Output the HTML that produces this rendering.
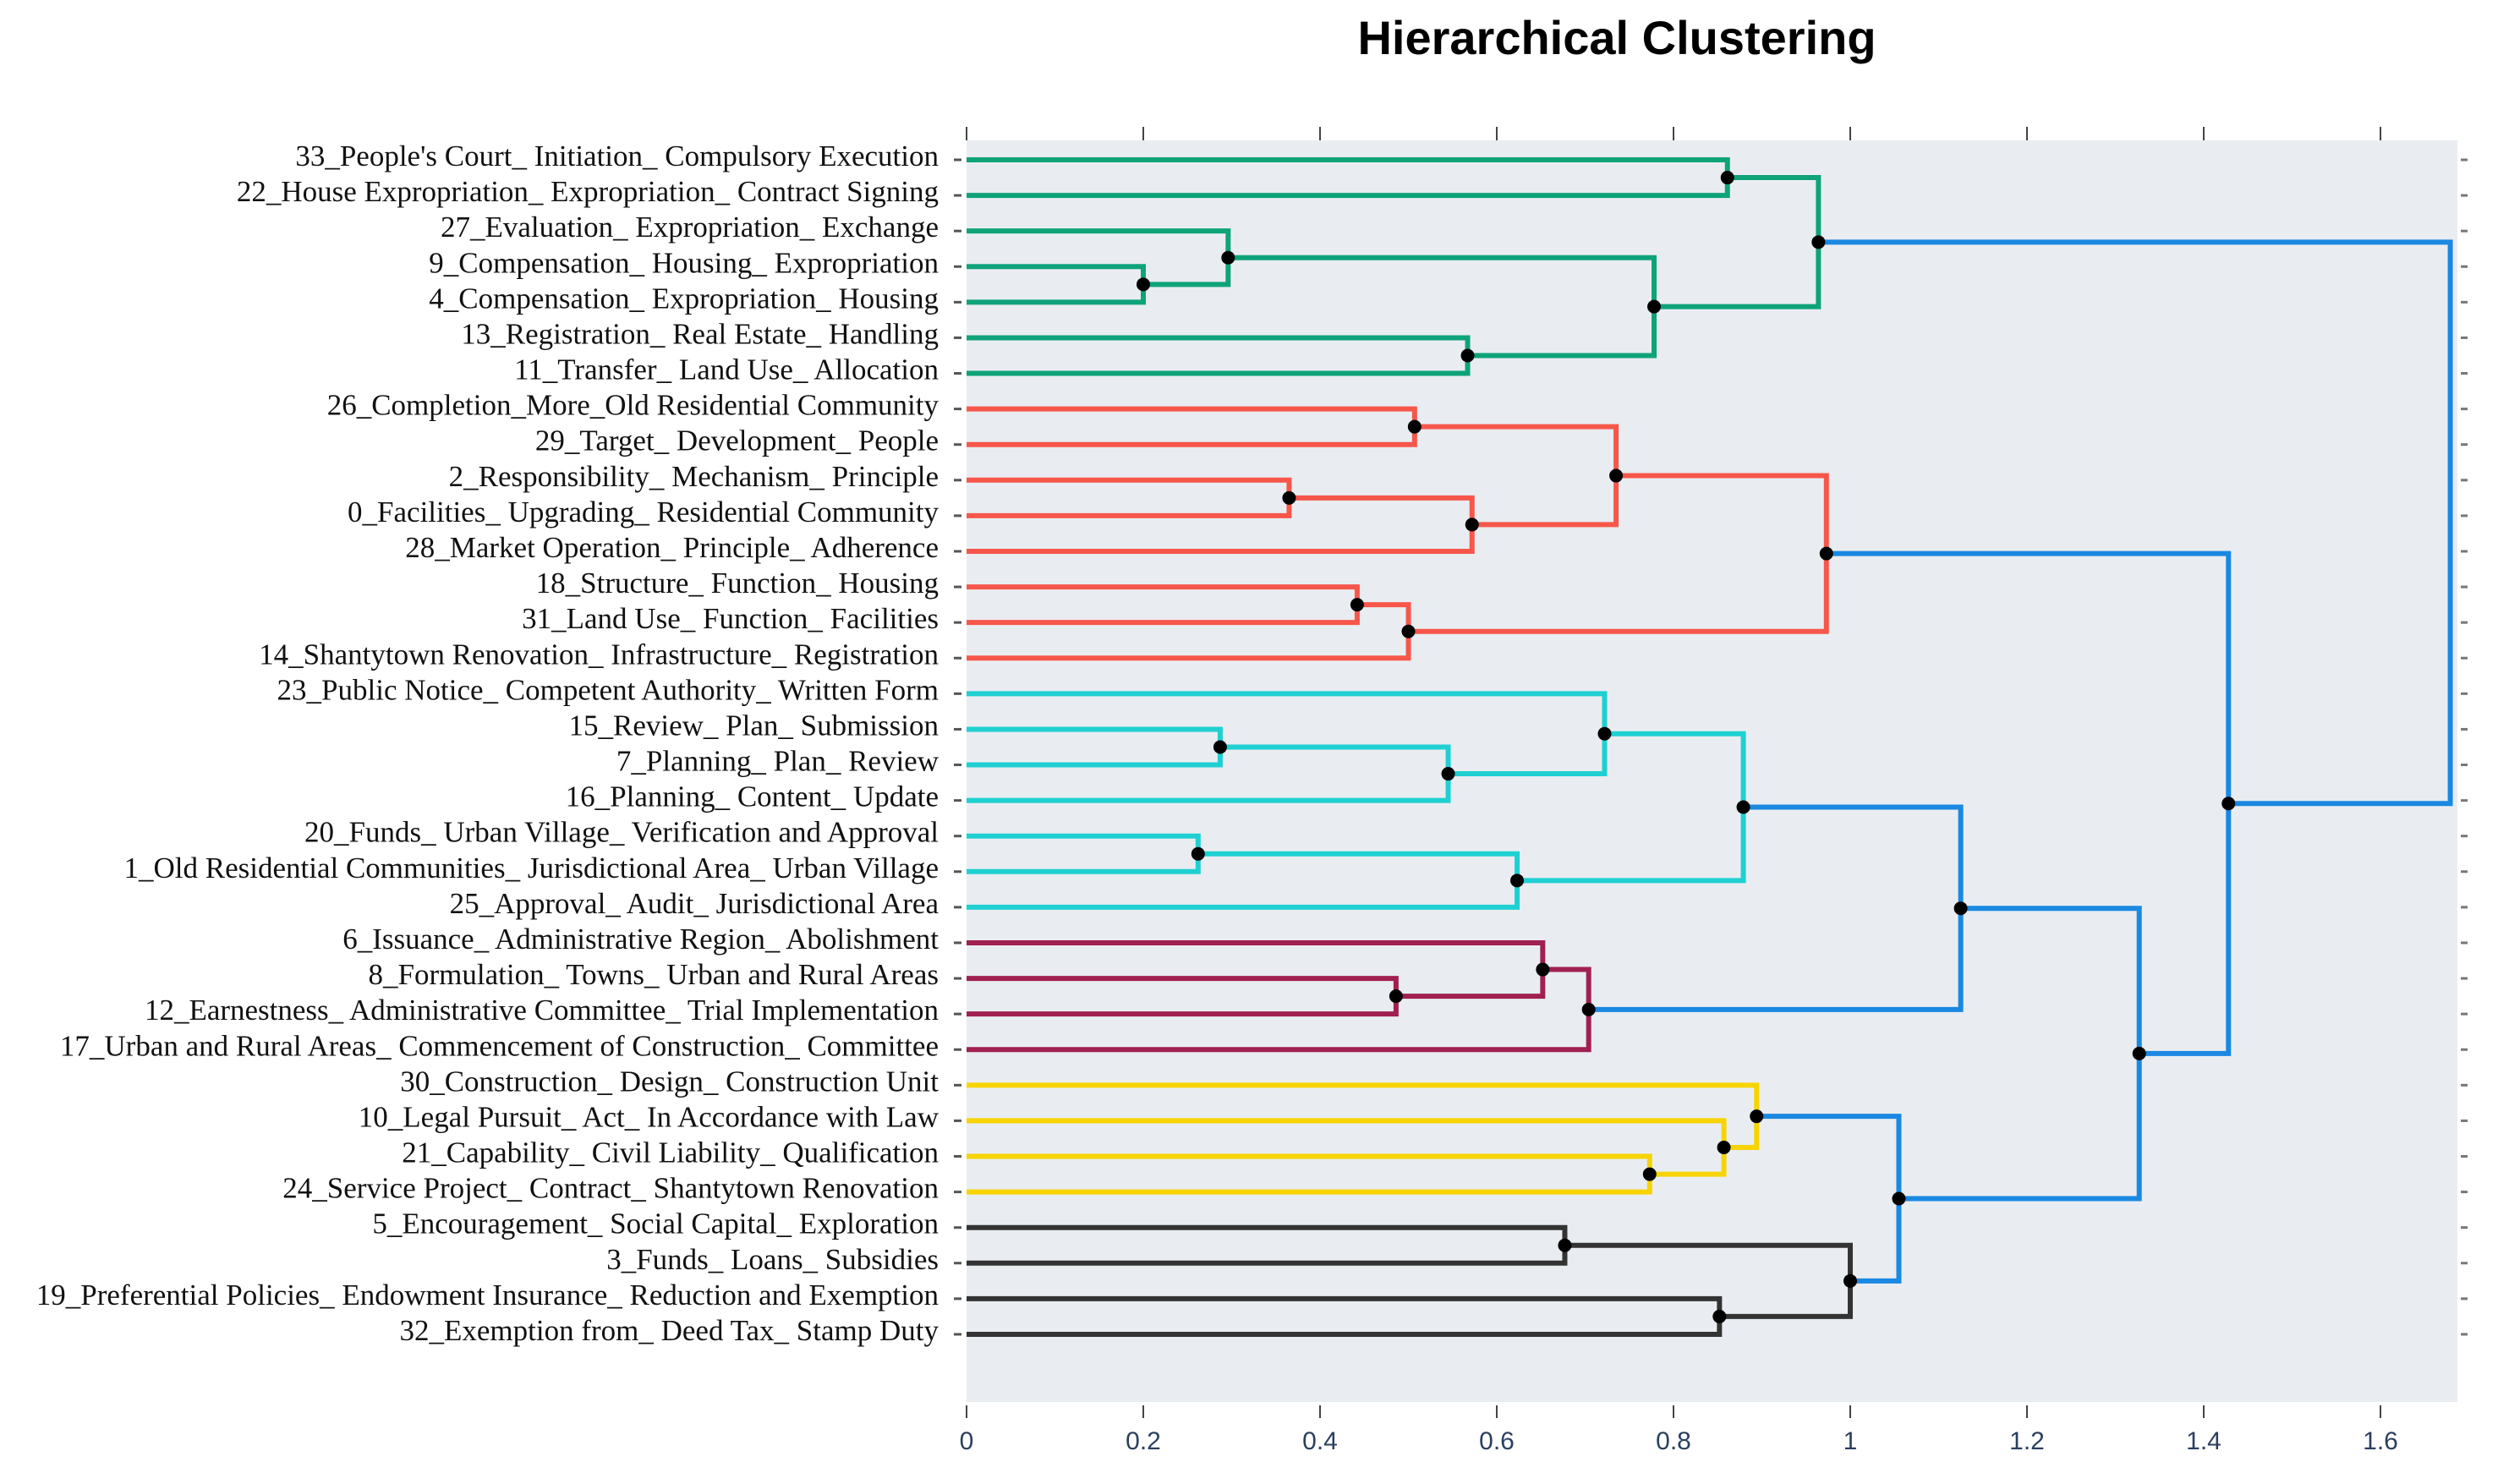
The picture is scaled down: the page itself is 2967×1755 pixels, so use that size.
<!DOCTYPE html>
<html><head><meta charset="utf-8"><style>
html,body{margin:0;padding:0;background:#fff;}
svg{display:block;}
</style></head><body>
<svg id="chart" width="2967" height="1755" xmlns="http://www.w3.org/2000/svg">
<text x="1912" y="64" text-anchor="middle" font-family="Liberation Sans, sans-serif" font-weight="bold" font-size="56" fill="#000">Hierarchical Clustering</text>
<rect x="1143" y="166" width="1763" height="1492" fill="#e9edf1"/>
<g id="axis"></g><g id="links"></g><g id="dots"></g><g id="labels"></g>
</svg>
<script>
const leafLabels = [
"33_People's Court_ Initiation_ Compulsory Execution",
"22_House Expropriation_ Expropriation_ Contract Signing",
"27_Evaluation_ Expropriation_ Exchange",
"9_Compensation_ Housing_ Expropriation",
"4_Compensation_ Expropriation_ Housing",
"13_Registration_ Real Estate_ Handling",
"11_Transfer_ Land Use_ Allocation",
"26_Completion_More_Old Residential Community",
"29_Target_ Development_ People",
"2_Responsibility_ Mechanism_ Principle",
"0_Facilities_ Upgrading_ Residential Community",
"28_Market Operation_ Principle_ Adherence",
"18_Structure_ Function_ Housing",
"31_Land Use_ Function_ Facilities",
"14_Shantytown Renovation_ Infrastructure_ Registration",
"23_Public Notice_ Competent Authority_ Written Form",
"15_Review_ Plan_ Submission",
"7_Planning_ Plan_ Review",
"16_Planning_ Content_ Update",
"20_Funds_ Urban Village_ Verification and Approval",
"1_Old Residential Communities_ Jurisdictional Area_ Urban Village",
"25_Approval_ Audit_ Jurisdictional Area",
"6_Issuance_ Administrative Region_ Abolishment",
"8_Formulation_ Towns_ Urban and Rural Areas",
"12_Earnestness_ Administrative Committee_ Trial Implementation",
"17_Urban and Rural Areas_ Commencement of Construction_ Committee",
"30_Construction_ Design_ Construction Unit",
"10_Legal Pursuit_ Act_ In Accordance with Law",
"21_Capability_ Civil Liability_ Qualification",
"24_Service Project_ Contract_ Shantytown Renovation",
"5_Encouragement_ Social Capital_ Exploration",
"3_Funds_ Loans_ Subsidies",
"19_Preferential Policies_ Endowment Insurance_ Reduction and Exemption",
"32_Exemption from_ Deed Tax_ Stamp Duty"];
// children: leaf row index (<100) or 100+merge index
const mergeLeft  = [0,3,2,5,102,100, 7,9,107,106,12,110,109, 16,113,15,19,116,115, 23,22,120,118, 28,27,26, 30,32,126,125,122,112,105];
const mergeRight = [1,4,101,6,103,104, 8,10,11,108,13,14,111, 17,18,114,20,21,117, 24,119,25,121, 29,123,124, 31,33,127,128,129,130,131];
const mergeHeight= [0.861,0.20,0.296,0.567,0.778,0.964, 0.507,0.365,0.572,0.735,0.442,0.50,0.973, 0.287,0.545,0.722,0.262,0.623,0.879, 0.486,0.652,0.704,1.125, 0.773,0.857,0.894, 0.677,0.852,1.0,1.055,1.327,1.428,1.679];
const mergeColor = ["g","g","g","g","g","g", "r","r","r","r","r","r","r", "c","c","c","c","c","c", "p","p","p","b", "y","y","y", "k","k","k","b","b","b","b"];
const xTicks = [0,0.2,0.4,0.6,0.8,1,1.2,1.4,1.6];
</script>
<script>
const palette={g:"#0fa37a",r:"#f7564b",c:"#1fd0d2",p:"#a0204f",y:"#f7d400",k:"#333333",b:"#1b88e2"};
const NS="http://www.w3.org/2000/svg";
const x0=1143, pxPerUnit=1045, y0=189, rowH=42.09;
const X=v=>x0+v*pxPerUnit, Y=i=>y0+i*rowH;
const axis=document.getElementById('axis'),links=document.getElementById('links'),dots=document.getElementById('dots'),labels=document.getElementById('labels');
function el(t,a,p){const e=document.createElementNS(NS,t);for(const k in a)e.setAttribute(k,a[k]);p.appendChild(e);return e;}
xTicks.forEach(v=>{
  const t1=el('line',{x1:X(v),x2:X(v),y1:150,y2:166,stroke:'#444','stroke-width':2},axis);
  
  
  const t2=el('line',{x1:X(v),x2:X(v),y1:1662,y2:1677,stroke:'#444','stroke-width':2},axis);
  
  
  const tx=el('text',{x:X(v),y:1714,'text-anchor':'middle','font-family':'Liberation Sans, sans-serif','font-size':30,fill:'#2a3f5f'},axis);
  tx.textContent=String(v);
  
  
});
leafLabels.forEach((s,i)=>{
  const d=el('line',{x1:1128,x2:1137,y1:Y(i),y2:Y(i),stroke:'#555','stroke-width':3},axis);
  
  
  const d2=el('line',{x1:2910,x2:2918,y1:Y(i),y2:Y(i),stroke:'#777','stroke-width':3},axis);
  
  
  const t=el('text',{x:1110,y:Y(i)+7,'text-anchor':'end','font-family':'Liberation Serif, serif','font-size':35,fill:'#111'},labels);
  t.textContent=s;
  
  
});
const pos={};
function node(id){
  if(id<100) return {y:Y(id),x:X(0)};
  return pos[id];
}
const last=mergeLeft.length-1;
for(let k=0;k<mergeLeft.length;k++){
  const a=node(mergeLeft[k]), b=node(mergeRight[k]);
  if(!a||!b) continue;
  const hx=X(mergeHeight[k]);
  const col=palette[mergeColor[k]];
  const p=el('path',{d:`M${a.x},${a.y}H${hx}V${b.y}H${b.x}`,fill:'none',stroke:col,'stroke-width':6},links);
  
  
  const my=(a.y+b.y)/2;
  pos[100+k]={x:hx,y:my};
  if(k===last) continue;
  const c=el('circle',{cx:hx,cy:my,r:8,fill:'#000'},dots);
  
  
}
</script>
</body></html>
